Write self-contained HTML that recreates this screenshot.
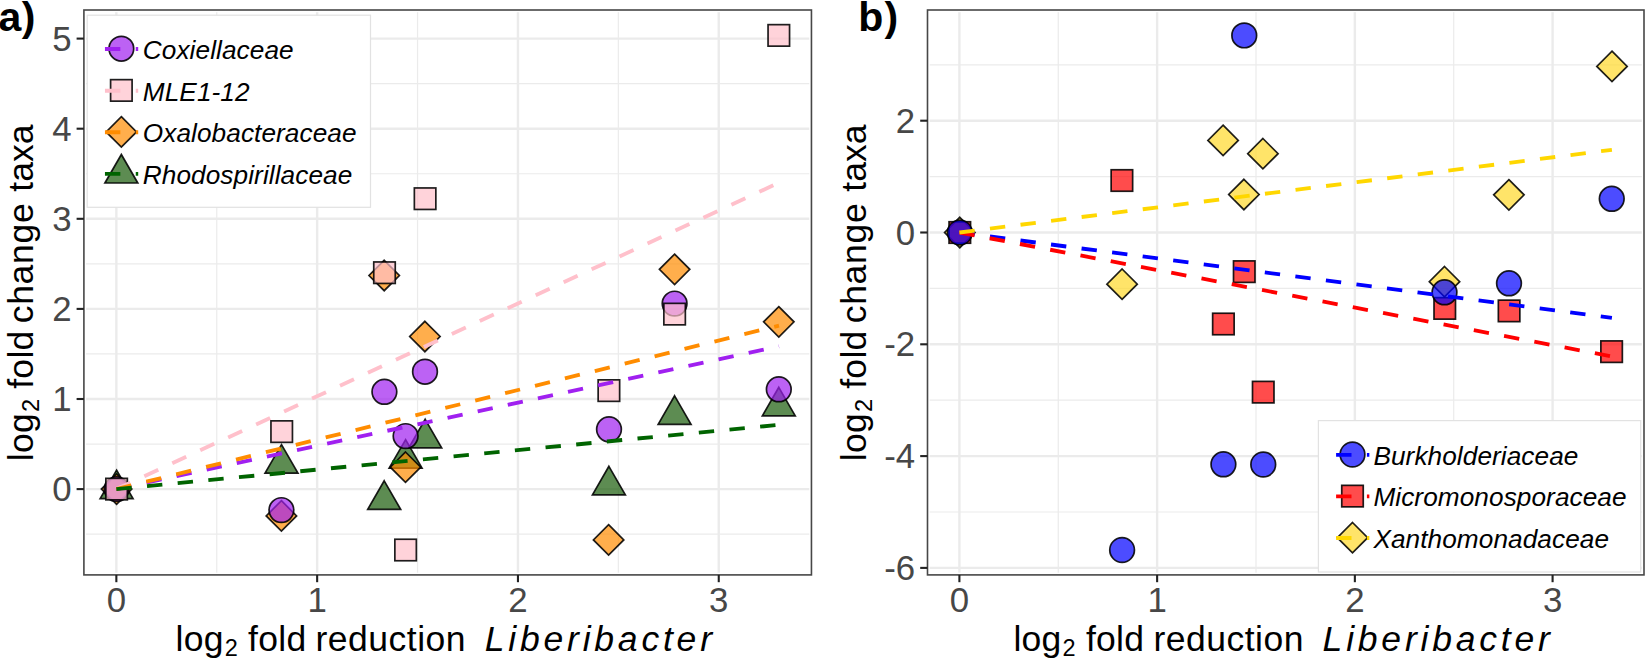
<!DOCTYPE html>
<html lang="en">
<head>
<meta charset="utf-8">
<title>log2 fold change taxa vs log2 fold reduction Liberibacter</title>
<style>
html,body{margin:0;padding:0;background:#fff;}
body{width:1645px;height:659px;overflow:hidden;font-family:"Liberation Sans",Arial,Helvetica,sans-serif;}
svg{display:block;}
</style>
</head>
<body>
<svg width="1645" height="659" viewBox="0 0 1645 659" font-family="'Liberation Sans', Arial, Helvetica, sans-serif">
<rect width="1645" height="659" fill="#fff"/>
<g id="panel-a">
<rect x="83.9" y="10.0" width="727.6" height="564.9" fill="#fff"/>
<line x1="83.9" x2="811.45" y1="534.15" y2="534.15" stroke="#ebebeb" stroke-width="1.2"/>
<line x1="83.9" x2="811.45" y1="444.05" y2="444.05" stroke="#ebebeb" stroke-width="1.2"/>
<line x1="83.9" x2="811.45" y1="353.95" y2="353.95" stroke="#ebebeb" stroke-width="1.2"/>
<line x1="83.9" x2="811.45" y1="263.85" y2="263.85" stroke="#ebebeb" stroke-width="1.2"/>
<line x1="83.9" x2="811.45" y1="173.75" y2="173.75" stroke="#ebebeb" stroke-width="1.2"/>
<line x1="83.9" x2="811.45" y1="83.65" y2="83.65" stroke="#ebebeb" stroke-width="1.2"/>
<line y1="10.0" y2="574.9" x1="216.75" x2="216.75" stroke="#ebebeb" stroke-width="1.2"/>
<line y1="10.0" y2="574.9" x1="417.55" x2="417.55" stroke="#ebebeb" stroke-width="1.2"/>
<line y1="10.0" y2="574.9" x1="618.35" x2="618.35" stroke="#ebebeb" stroke-width="1.2"/>
<line x1="83.9" x2="811.45" y1="489.10" y2="489.10" stroke="#ebebeb" stroke-width="2.4"/>
<line x1="83.9" x2="811.45" y1="399.00" y2="399.00" stroke="#ebebeb" stroke-width="2.4"/>
<line x1="83.9" x2="811.45" y1="308.90" y2="308.90" stroke="#ebebeb" stroke-width="2.4"/>
<line x1="83.9" x2="811.45" y1="218.80" y2="218.80" stroke="#ebebeb" stroke-width="2.4"/>
<line x1="83.9" x2="811.45" y1="128.70" y2="128.70" stroke="#ebebeb" stroke-width="2.4"/>
<line x1="83.9" x2="811.45" y1="38.60" y2="38.60" stroke="#ebebeb" stroke-width="2.4"/>
<line y1="10.0" y2="574.9" x1="116.35" x2="116.35" stroke="#ebebeb" stroke-width="2.4"/>
<line y1="10.0" y2="574.9" x1="317.15" x2="317.15" stroke="#ebebeb" stroke-width="2.4"/>
<line y1="10.0" y2="574.9" x1="517.95" x2="517.95" stroke="#ebebeb" stroke-width="2.4"/>
<line y1="10.0" y2="574.9" x1="718.75" x2="718.75" stroke="#ebebeb" stroke-width="2.4"/>
<path d="M116.60 470.10L133.05 498.60L100.15 498.60Z" fill="#185b08" fill-opacity="0.7" stroke="#000" stroke-opacity="0.88" stroke-width="1.7" stroke-linejoin="miter"/>
<path d="M281.50 444.70L297.95 473.20L265.05 473.20Z" fill="#185b08" fill-opacity="0.7" stroke="#000" stroke-opacity="0.88" stroke-width="1.7" stroke-linejoin="miter"/>
<path d="M384.20 480.80L400.65 509.30L367.75 509.30Z" fill="#185b08" fill-opacity="0.7" stroke="#000" stroke-opacity="0.88" stroke-width="1.7" stroke-linejoin="miter"/>
<path d="M405.60 439.70L422.05 468.20L389.15 468.20Z" fill="#185b08" fill-opacity="0.7" stroke="#000" stroke-opacity="0.88" stroke-width="1.7" stroke-linejoin="miter"/>
<path d="M425.20 419.30L441.65 447.80L408.75 447.80Z" fill="#185b08" fill-opacity="0.7" stroke="#000" stroke-opacity="0.88" stroke-width="1.7" stroke-linejoin="miter"/>
<path d="M608.90 466.30L625.35 494.80L592.45 494.80Z" fill="#185b08" fill-opacity="0.7" stroke="#000" stroke-opacity="0.88" stroke-width="1.7" stroke-linejoin="miter"/>
<path d="M674.60 395.80L691.05 424.30L658.15 424.30Z" fill="#185b08" fill-opacity="0.7" stroke="#000" stroke-opacity="0.88" stroke-width="1.7" stroke-linejoin="miter"/>
<path d="M778.80 387.30L795.25 415.80L762.35 415.80Z" fill="#185b08" fill-opacity="0.7" stroke="#000" stroke-opacity="0.88" stroke-width="1.7" stroke-linejoin="miter"/>
<path d="M116.60 473.90L131.80 489.10L116.60 504.30L101.40 489.10Z" fill="#ff8c00" fill-opacity="0.7" stroke="#000" stroke-opacity="0.88" stroke-width="1.7" stroke-linejoin="miter"/>
<path d="M281.40 500.70L296.60 515.90L281.40 531.10L266.20 515.90Z" fill="#ff8c00" fill-opacity="0.7" stroke="#000" stroke-opacity="0.88" stroke-width="1.7" stroke-linejoin="miter"/>
<path d="M384.20 260.30L399.40 275.50L384.20 290.70L369.00 275.50Z" fill="#ff8c00" fill-opacity="0.7" stroke="#000" stroke-opacity="0.88" stroke-width="1.7" stroke-linejoin="miter"/>
<path d="M405.50 452.00L420.70 467.20L405.50 482.40L390.30 467.20Z" fill="#ff8c00" fill-opacity="0.7" stroke="#000" stroke-opacity="0.88" stroke-width="1.7" stroke-linejoin="miter"/>
<path d="M424.90 321.30L440.10 336.50L424.90 351.70L409.70 336.50Z" fill="#ff8c00" fill-opacity="0.7" stroke="#000" stroke-opacity="0.88" stroke-width="1.7" stroke-linejoin="miter"/>
<path d="M608.60 524.70L623.80 539.90L608.60 555.10L593.40 539.90Z" fill="#ff8c00" fill-opacity="0.7" stroke="#000" stroke-opacity="0.88" stroke-width="1.7" stroke-linejoin="miter"/>
<path d="M674.60 254.10L689.80 269.30L674.60 284.50L659.40 269.30Z" fill="#ff8c00" fill-opacity="0.7" stroke="#000" stroke-opacity="0.88" stroke-width="1.7" stroke-linejoin="miter"/>
<path d="M778.80 306.60L794.00 321.80L778.80 337.00L763.60 321.80Z" fill="#ff8c00" fill-opacity="0.7" stroke="#000" stroke-opacity="0.88" stroke-width="1.7" stroke-linejoin="miter"/>
<circle cx="116.60" cy="489.10" r="12.35" fill="#a020f0" fill-opacity="0.7" stroke="#000" stroke-opacity="0.88" stroke-width="1.7"/>
<circle cx="281.40" cy="510.10" r="12.35" fill="#a020f0" fill-opacity="0.7" stroke="#000" stroke-opacity="0.88" stroke-width="1.7"/>
<circle cx="384.40" cy="391.80" r="12.35" fill="#a020f0" fill-opacity="0.7" stroke="#000" stroke-opacity="0.88" stroke-width="1.7"/>
<circle cx="405.60" cy="436.10" r="12.35" fill="#a020f0" fill-opacity="0.7" stroke="#000" stroke-opacity="0.88" stroke-width="1.7"/>
<circle cx="425.00" cy="371.70" r="12.35" fill="#a020f0" fill-opacity="0.7" stroke="#000" stroke-opacity="0.88" stroke-width="1.7"/>
<circle cx="609.00" cy="429.30" r="12.35" fill="#a020f0" fill-opacity="0.7" stroke="#000" stroke-opacity="0.88" stroke-width="1.7"/>
<circle cx="674.60" cy="303.60" r="12.35" fill="#a020f0" fill-opacity="0.7" stroke="#000" stroke-opacity="0.88" stroke-width="1.7"/>
<circle cx="778.80" cy="389.30" r="12.35" fill="#a020f0" fill-opacity="0.7" stroke="#000" stroke-opacity="0.88" stroke-width="1.7"/>
<rect x="105.85" y="478.35" width="21.5" height="21.5" fill="#ffc0cb" fill-opacity="0.7" stroke="#000" stroke-opacity="0.88" stroke-width="1.7"/>
<rect x="270.95" y="420.85" width="21.5" height="21.5" fill="#ffc0cb" fill-opacity="0.7" stroke="#000" stroke-opacity="0.88" stroke-width="1.7"/>
<rect x="373.75" y="261.95" width="21.5" height="21.5" fill="#ffc0cb" fill-opacity="0.7" stroke="#000" stroke-opacity="0.88" stroke-width="1.7"/>
<rect x="394.85" y="539.25" width="21.5" height="21.5" fill="#ffc0cb" fill-opacity="0.7" stroke="#000" stroke-opacity="0.88" stroke-width="1.7"/>
<rect x="414.35" y="187.95" width="21.5" height="21.5" fill="#ffc0cb" fill-opacity="0.7" stroke="#000" stroke-opacity="0.88" stroke-width="1.7"/>
<rect x="598.15" y="379.85" width="21.5" height="21.5" fill="#ffc0cb" fill-opacity="0.7" stroke="#000" stroke-opacity="0.88" stroke-width="1.7"/>
<rect x="663.85" y="303.35" width="21.5" height="21.5" fill="#ffc0cb" fill-opacity="0.7" stroke="#000" stroke-opacity="0.88" stroke-width="1.7"/>
<rect x="768.05" y="24.65" width="21.5" height="21.5" fill="#ffc0cb" fill-opacity="0.7" stroke="#000" stroke-opacity="0.88" stroke-width="1.7"/>
<line x1="116.35" y1="489.10" x2="779.00" y2="346.40" stroke="#a020f0" stroke-width="3.85" stroke-dasharray="15.4 15.4"/>
<line x1="116.35" y1="489.10" x2="779.00" y2="182.70" stroke="#ffc0cb" stroke-width="3.85" stroke-dasharray="15.4 15.4"/>
<line x1="116.35" y1="489.10" x2="779.00" y2="325.60" stroke="#ff8c00" stroke-width="3.85" stroke-dasharray="15.4 15.4"/>
<line x1="116.35" y1="489.10" x2="779.00" y2="424.80" stroke="#006400" stroke-width="3.85" stroke-dasharray="15.4 15.4"/>
<rect x="83.9" y="10.0" width="727.55" height="564.90" fill="none" stroke="#fff" stroke-width="4.4"/>
</g>
<g id="panel-b">
<rect x="927.5" y="10.0" width="716.5" height="564.9" fill="#fff"/>
<line x1="927.5" x2="1644.0" y1="64.80" y2="64.80" stroke="#ebebeb" stroke-width="1.2"/>
<line x1="927.5" x2="1644.0" y1="176.60" y2="176.60" stroke="#ebebeb" stroke-width="1.2"/>
<line x1="927.5" x2="1644.0" y1="288.40" y2="288.40" stroke="#ebebeb" stroke-width="1.2"/>
<line x1="927.5" x2="1644.0" y1="400.20" y2="400.20" stroke="#ebebeb" stroke-width="1.2"/>
<line x1="927.5" x2="1644.0" y1="512.00" y2="512.00" stroke="#ebebeb" stroke-width="1.2"/>
<line y1="10.0" y2="574.9" x1="1058.26" x2="1058.26" stroke="#ebebeb" stroke-width="1.2"/>
<line y1="10.0" y2="574.9" x1="1255.99" x2="1255.99" stroke="#ebebeb" stroke-width="1.2"/>
<line y1="10.0" y2="574.9" x1="1453.72" x2="1453.72" stroke="#ebebeb" stroke-width="1.2"/>
<line x1="927.5" x2="1644.0" y1="120.70" y2="120.70" stroke="#ebebeb" stroke-width="2.4"/>
<line x1="927.5" x2="1644.0" y1="232.50" y2="232.50" stroke="#ebebeb" stroke-width="2.4"/>
<line x1="927.5" x2="1644.0" y1="344.30" y2="344.30" stroke="#ebebeb" stroke-width="2.4"/>
<line x1="927.5" x2="1644.0" y1="456.10" y2="456.10" stroke="#ebebeb" stroke-width="2.4"/>
<line x1="927.5" x2="1644.0" y1="567.90" y2="567.90" stroke="#ebebeb" stroke-width="2.4"/>
<line y1="10.0" y2="574.9" x1="959.40" x2="959.40" stroke="#ebebeb" stroke-width="2.4"/>
<line y1="10.0" y2="574.9" x1="1157.13" x2="1157.13" stroke="#ebebeb" stroke-width="2.4"/>
<line y1="10.0" y2="574.9" x1="1354.86" x2="1354.86" stroke="#ebebeb" stroke-width="2.4"/>
<line y1="10.0" y2="574.9" x1="1552.59" x2="1552.59" stroke="#ebebeb" stroke-width="2.4"/>
<path d="M959.80 217.30L975.00 232.50L959.80 247.70L944.60 232.50Z" fill="#ffd92a" fill-opacity="0.7" stroke="#000" stroke-opacity="0.88" stroke-width="1.7" stroke-linejoin="miter"/>
<path d="M1122.10 269.00L1137.30 284.20L1122.10 299.40L1106.90 284.20Z" fill="#ffd92a" fill-opacity="0.7" stroke="#000" stroke-opacity="0.88" stroke-width="1.7" stroke-linejoin="miter"/>
<path d="M1223.10 125.20L1238.30 140.40L1223.10 155.60L1207.90 140.40Z" fill="#ffd92a" fill-opacity="0.7" stroke="#000" stroke-opacity="0.88" stroke-width="1.7" stroke-linejoin="miter"/>
<path d="M1243.90 179.30L1259.10 194.50L1243.90 209.70L1228.70 194.50Z" fill="#ffd92a" fill-opacity="0.7" stroke="#000" stroke-opacity="0.88" stroke-width="1.7" stroke-linejoin="miter"/>
<path d="M1262.90 138.50L1278.10 153.70L1262.90 168.90L1247.70 153.70Z" fill="#ffd92a" fill-opacity="0.7" stroke="#000" stroke-opacity="0.88" stroke-width="1.7" stroke-linejoin="miter"/>
<path d="M1444.50 266.50L1459.70 281.70L1444.50 296.90L1429.30 281.70Z" fill="#ffd92a" fill-opacity="0.7" stroke="#000" stroke-opacity="0.88" stroke-width="1.7" stroke-linejoin="miter"/>
<path d="M1508.90 179.60L1524.10 194.80L1508.90 210.00L1493.70 194.80Z" fill="#ffd92a" fill-opacity="0.7" stroke="#000" stroke-opacity="0.88" stroke-width="1.7" stroke-linejoin="miter"/>
<path d="M1612.00 51.20L1627.20 66.40L1612.00 81.60L1596.80 66.40Z" fill="#ffd92a" fill-opacity="0.7" stroke="#000" stroke-opacity="0.88" stroke-width="1.7" stroke-linejoin="miter"/>
<rect x="949.05" y="221.75" width="21.5" height="21.5" fill="#ff0000" fill-opacity="0.7" stroke="#000" stroke-opacity="0.88" stroke-width="1.7"/>
<rect x="1111.15" y="169.75" width="21.5" height="21.5" fill="#ff0000" fill-opacity="0.7" stroke="#000" stroke-opacity="0.88" stroke-width="1.7"/>
<rect x="1212.65" y="313.25" width="21.5" height="21.5" fill="#ff0000" fill-opacity="0.7" stroke="#000" stroke-opacity="0.88" stroke-width="1.7"/>
<rect x="1233.50" y="260.90" width="21.5" height="21.5" fill="#ff0000" fill-opacity="0.7" stroke="#000" stroke-opacity="0.88" stroke-width="1.7"/>
<rect x="1252.50" y="381.40" width="21.5" height="21.5" fill="#ff0000" fill-opacity="0.7" stroke="#000" stroke-opacity="0.88" stroke-width="1.7"/>
<rect x="1434.00" y="297.65" width="21.5" height="21.5" fill="#ff0000" fill-opacity="0.7" stroke="#000" stroke-opacity="0.88" stroke-width="1.7"/>
<rect x="1498.35" y="300.15" width="21.5" height="21.5" fill="#ff0000" fill-opacity="0.7" stroke="#000" stroke-opacity="0.88" stroke-width="1.7"/>
<rect x="1600.85" y="340.90" width="21.5" height="21.5" fill="#ff0000" fill-opacity="0.7" stroke="#000" stroke-opacity="0.88" stroke-width="1.7"/>
<circle cx="959.80" cy="232.50" r="12.35" fill="#0000ff" fill-opacity="0.7" stroke="#000" stroke-opacity="0.88" stroke-width="1.7"/>
<circle cx="1122.10" cy="550.00" r="12.35" fill="#0000ff" fill-opacity="0.7" stroke="#000" stroke-opacity="0.88" stroke-width="1.7"/>
<circle cx="1223.40" cy="464.30" r="12.35" fill="#0000ff" fill-opacity="0.7" stroke="#000" stroke-opacity="0.88" stroke-width="1.7"/>
<circle cx="1244.25" cy="35.40" r="12.35" fill="#0000ff" fill-opacity="0.7" stroke="#000" stroke-opacity="0.88" stroke-width="1.7"/>
<circle cx="1263.25" cy="464.50" r="12.35" fill="#0000ff" fill-opacity="0.7" stroke="#000" stroke-opacity="0.88" stroke-width="1.7"/>
<circle cx="1444.50" cy="292.30" r="12.35" fill="#0000ff" fill-opacity="0.7" stroke="#000" stroke-opacity="0.88" stroke-width="1.7"/>
<circle cx="1509.00" cy="283.30" r="12.35" fill="#0000ff" fill-opacity="0.7" stroke="#000" stroke-opacity="0.88" stroke-width="1.7"/>
<circle cx="1611.75" cy="198.80" r="12.35" fill="#0000ff" fill-opacity="0.7" stroke="#000" stroke-opacity="0.88" stroke-width="1.7"/>
<line x1="959.40" y1="232.50" x2="1611.90" y2="317.80" stroke="#0000ff" stroke-width="3.85" stroke-dasharray="15.4 15.4"/>
<line x1="959.40" y1="232.50" x2="1611.90" y2="356.40" stroke="#ff0000" stroke-width="3.85" stroke-dasharray="15.4 15.4"/>
<line x1="959.40" y1="232.50" x2="1611.90" y2="149.80" stroke="#ffd700" stroke-width="3.85" stroke-dasharray="15.4 15.4"/>
<rect x="927.5" y="10.0" width="716.50" height="564.90" fill="none" stroke="#fff" stroke-width="4.4"/>
</g>
<rect x="87.2" y="15.2" width="283.3" height="192.1" fill="#fff" stroke="#e2e2e2" stroke-width="1.2"/>
<circle cx="121.35" cy="48.70" r="12.35" fill="#a020f0" fill-opacity="0.7" stroke="#000" stroke-opacity="0.88" stroke-width="1.7"/>
<line x1="104.95" y1="49.00" x2="138.20" y2="49.00" stroke="#a020f0" stroke-width="3.85" stroke-dasharray="15.4 15.4"/>
<text x="142.8" y="59.00" font-size="26.2" letter-spacing="0.08" font-style="italic" fill="#000">Coxiellaceae</text>
<rect x="110.60" y="79.65" width="21.5" height="21.5" fill="#ffc0cb" fill-opacity="0.7" stroke="#000" stroke-opacity="0.88" stroke-width="1.7"/>
<line x1="104.95" y1="90.70" x2="138.20" y2="90.70" stroke="#ffc0cb" stroke-width="3.85" stroke-dasharray="15.4 15.4"/>
<text x="142.8" y="100.70" font-size="26.2" letter-spacing="0.08" font-style="italic" fill="#000">MLE1-12</text>
<path d="M121.35 116.70L136.55 131.90L121.35 147.10L106.15 131.90Z" fill="#ff8c00" fill-opacity="0.7" stroke="#000" stroke-opacity="0.88" stroke-width="1.7" stroke-linejoin="miter"/>
<line x1="104.95" y1="132.20" x2="138.20" y2="132.20" stroke="#ff8c00" stroke-width="3.85" stroke-dasharray="15.4 15.4"/>
<text x="142.8" y="142.20" font-size="26.2" letter-spacing="0.08" font-style="italic" fill="#000">Oxalobacteraceae</text>
<path d="M121.35 154.50L137.80 183.00L104.90 183.00Z" fill="#185b08" fill-opacity="0.7" stroke="#000" stroke-opacity="0.88" stroke-width="1.7" stroke-linejoin="miter"/>
<line x1="104.95" y1="173.80" x2="138.20" y2="173.80" stroke="#006400" stroke-width="3.85" stroke-dasharray="15.4 15.4"/>
<text x="142.8" y="183.80" font-size="26.2" letter-spacing="0.08" font-style="italic" fill="#000">Rhodospirillaceae</text>
<rect x="1318.4" y="420.6" width="322.3" height="151.4" fill="#fff" stroke="#e2e2e2" stroke-width="1.2"/>
<circle cx="1352.50" cy="454.50" r="12.35" fill="#0000ff" fill-opacity="0.7" stroke="#000" stroke-opacity="0.88" stroke-width="1.7"/>
<line x1="1336.10" y1="454.80" x2="1369.35" y2="454.80" stroke="#0000ff" stroke-width="3.85" stroke-dasharray="15.4 15.4"/>
<text x="1373.4" y="464.80" font-size="26.2" letter-spacing="0.08" font-style="italic" fill="#000">Burkholderiaceae</text>
<rect x="1341.75" y="485.35" width="21.5" height="21.5" fill="#ff0000" fill-opacity="0.7" stroke="#000" stroke-opacity="0.88" stroke-width="1.7"/>
<line x1="1336.10" y1="496.40" x2="1369.35" y2="496.40" stroke="#ff0000" stroke-width="3.85" stroke-dasharray="15.4 15.4"/>
<text x="1373.4" y="506.40" font-size="26.2" letter-spacing="0.08" font-style="italic" fill="#000">Micromonosporaceae</text>
<path d="M1352.50 522.50L1367.70 537.70L1352.50 552.90L1337.30 537.70Z" fill="#ffd92a" fill-opacity="0.7" stroke="#000" stroke-opacity="0.88" stroke-width="1.7" stroke-linejoin="miter"/>
<line x1="1336.10" y1="538.00" x2="1369.35" y2="538.00" stroke="#ffd700" stroke-width="3.85" stroke-dasharray="15.4 15.4"/>
<text x="1373.4" y="548.00" font-size="26.2" letter-spacing="0.08" font-style="italic" fill="#000">Xanthomonadaceae</text>
<rect x="83.9" y="10.0" width="727.55" height="564.90" fill="none" stroke="#474747" stroke-width="1.6"/>
<rect x="927.5" y="10.0" width="716.50" height="564.90" fill="none" stroke="#474747" stroke-width="1.6"/>
<line x1="116.35" x2="116.35" y1="574.9" y2="582.1999999999999" stroke="#222" stroke-width="2.1"/>
<text x="116.35" y="612.0" font-size="34.8" fill="#474747" text-anchor="middle">0</text>
<line x1="317.15" x2="317.15" y1="574.9" y2="582.1999999999999" stroke="#222" stroke-width="2.1"/>
<text x="317.15" y="612.0" font-size="34.8" fill="#474747" text-anchor="middle">1</text>
<line x1="517.95" x2="517.95" y1="574.9" y2="582.1999999999999" stroke="#222" stroke-width="2.1"/>
<text x="517.95" y="612.0" font-size="34.8" fill="#474747" text-anchor="middle">2</text>
<line x1="718.75" x2="718.75" y1="574.9" y2="582.1999999999999" stroke="#222" stroke-width="2.1"/>
<text x="718.75" y="612.0" font-size="34.8" fill="#474747" text-anchor="middle">3</text>
<line x1="76.60000000000001" x2="83.9" y1="489.10" y2="489.10" stroke="#222" stroke-width="2.1"/>
<text x="71.50" y="501.20" font-size="34.8" fill="#474747" text-anchor="end">0</text>
<line x1="76.60000000000001" x2="83.9" y1="399.00" y2="399.00" stroke="#222" stroke-width="2.1"/>
<text x="71.50" y="411.10" font-size="34.8" fill="#474747" text-anchor="end">1</text>
<line x1="76.60000000000001" x2="83.9" y1="308.90" y2="308.90" stroke="#222" stroke-width="2.1"/>
<text x="71.50" y="321.00" font-size="34.8" fill="#474747" text-anchor="end">2</text>
<line x1="76.60000000000001" x2="83.9" y1="218.80" y2="218.80" stroke="#222" stroke-width="2.1"/>
<text x="71.50" y="230.90" font-size="34.8" fill="#474747" text-anchor="end">3</text>
<line x1="76.60000000000001" x2="83.9" y1="128.70" y2="128.70" stroke="#222" stroke-width="2.1"/>
<text x="71.50" y="140.80" font-size="34.8" fill="#474747" text-anchor="end">4</text>
<line x1="76.60000000000001" x2="83.9" y1="38.60" y2="38.60" stroke="#222" stroke-width="2.1"/>
<text x="71.50" y="50.70" font-size="34.8" fill="#474747" text-anchor="end">5</text>
<line x1="959.40" x2="959.40" y1="574.9" y2="582.1999999999999" stroke="#222" stroke-width="2.1"/>
<text x="959.40" y="612.0" font-size="34.8" fill="#474747" text-anchor="middle">0</text>
<line x1="1157.13" x2="1157.13" y1="574.9" y2="582.1999999999999" stroke="#222" stroke-width="2.1"/>
<text x="1157.13" y="612.0" font-size="34.8" fill="#474747" text-anchor="middle">1</text>
<line x1="1354.86" x2="1354.86" y1="574.9" y2="582.1999999999999" stroke="#222" stroke-width="2.1"/>
<text x="1354.86" y="612.0" font-size="34.8" fill="#474747" text-anchor="middle">2</text>
<line x1="1552.59" x2="1552.59" y1="574.9" y2="582.1999999999999" stroke="#222" stroke-width="2.1"/>
<text x="1552.59" y="612.0" font-size="34.8" fill="#474747" text-anchor="middle">3</text>
<line x1="920.2" x2="927.5" y1="120.70" y2="120.70" stroke="#222" stroke-width="2.1"/>
<text x="915.10" y="132.80" font-size="34.8" fill="#474747" text-anchor="end">2</text>
<line x1="920.2" x2="927.5" y1="232.50" y2="232.50" stroke="#222" stroke-width="2.1"/>
<text x="915.10" y="244.60" font-size="34.8" fill="#474747" text-anchor="end">0</text>
<line x1="920.2" x2="927.5" y1="344.30" y2="344.30" stroke="#222" stroke-width="2.1"/>
<text x="915.10" y="356.40" font-size="34.8" fill="#474747" text-anchor="end">-2</text>
<line x1="920.2" x2="927.5" y1="456.10" y2="456.10" stroke="#222" stroke-width="2.1"/>
<text x="915.10" y="468.20" font-size="34.8" fill="#474747" text-anchor="end">-4</text>
<line x1="920.2" x2="927.5" y1="567.90" y2="567.90" stroke="#222" stroke-width="2.1"/>
<text x="915.10" y="580.00" font-size="34.8" fill="#474747" text-anchor="end">-6</text>
<text x="175.50" y="650.50" font-size="35.5" letter-spacing="0.3" fill="#000">log</text>
<text x="224.70" y="656.30" font-size="23.5" letter-spacing="0" fill="#000">2</text>
<text x="248.00" y="650.50" font-size="35.5" letter-spacing="0.3" fill="#000">fold</text>
<text x="315.50" y="650.50" font-size="35.5" letter-spacing="0.5" fill="#000">reduction</text>
<text x="484.70" y="650.50" font-size="35.5" letter-spacing="3.8" fill="#000" font-style="italic">Liberibacter</text>
<text x="1013.40" y="650.50" font-size="35.5" letter-spacing="0.3" fill="#000">log</text>
<text x="1062.60" y="656.30" font-size="23.5" letter-spacing="0" fill="#000">2</text>
<text x="1085.90" y="650.50" font-size="35.5" letter-spacing="0.3" fill="#000">fold</text>
<text x="1153.40" y="650.50" font-size="35.5" letter-spacing="0.5" fill="#000">reduction</text>
<text x="1322.60" y="650.50" font-size="35.5" letter-spacing="3.8" fill="#000" font-style="italic">Liberibacter</text>
<g transform="translate(33.3 461.3) rotate(-90)">
<text x="0.00" y="0.00" font-size="35.5" letter-spacing="0.3" fill="#000">log</text>
<text x="49.20" y="5.80" font-size="23.5" letter-spacing="0" fill="#000">2</text>
<text x="72.50" y="0.00" font-size="35.5" letter-spacing="0.3" fill="#000">fold</text>
<text x="138.00" y="0.00" font-size="35.5" letter-spacing="0.7" fill="#000">change</text>
<text x="269.60" y="0.00" font-size="35.5" letter-spacing="0" fill="#000">taxa</text>
</g>
<g transform="translate(865.9 461.3) rotate(-90)">
<text x="0.00" y="0.00" font-size="35.5" letter-spacing="0.3" fill="#000">log</text>
<text x="49.20" y="5.80" font-size="23.5" letter-spacing="0" fill="#000">2</text>
<text x="72.50" y="0.00" font-size="35.5" letter-spacing="0.3" fill="#000">fold</text>
<text x="138.00" y="0.00" font-size="35.5" letter-spacing="0.7" fill="#000">change</text>
<text x="269.60" y="0.00" font-size="35.5" letter-spacing="0" fill="#000">taxa</text>
</g>
<text x="-1.6" y="30.7" font-size="41" letter-spacing="0.6" font-weight="bold" fill="#000">a)</text>
<text x="858.2" y="30.7" font-size="41" letter-spacing="1.2" font-weight="bold" fill="#000">b)</text>
</svg>
</body>
</html>
